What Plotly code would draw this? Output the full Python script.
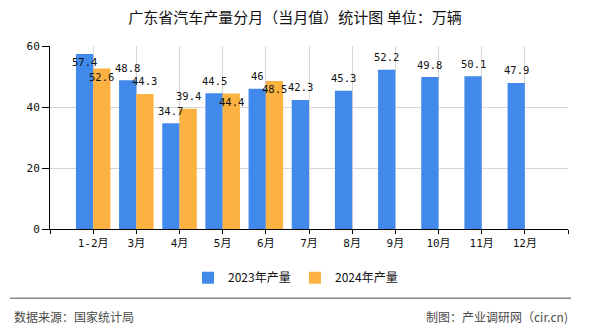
import plotly.graph_objects as go

# ---- data ----
categories = ["1-2月", "3月", "4月", "5月", "6月", "7月", "8月", "9月", "10月", "11月", "12月"]
values_2023 = [57.4, 48.8, 34.7, 44.5, 46, 42.3, 45.3, 52.2, 49.8, 50.1, 47.9]
values_2024 = [52.6, 44.3, 39.4, 44.4, 48.5]
series_names = ["2023年产量", "2024年产量"]
y_ticks = [0, 20, 40, 60]
title_text = "广东省汽车产量分月（当月值）统计图 单位：万辆"
source_text = "数据来源：国家统计局"
credit_text = "制图：产业调研网（cir.cn)"

# label placement style (True = label drawn just inside bar top)
inside_2023 = [True, False, False, False, False, False, False, False, False, False, False]
inside_2024 = [True, False, False, True, True]

# ---- layout geometry ----
W, H = 590, 330
L, R, T, B = 50, 22, 46, 101
PW, PH = W - L - R, H - T - B

def px_x(x):
    return (x - L) / PW

def px_y(y):
    return (H - B - y) / PH

BLUE = "#4289EC"
ORANGE = "#FBB241"
MONO = "DejaVu Sans Mono, Noto Sans CJK SC, sans-serif"
CJK = "Noto Sans CJK SC, sans-serif"

pos = list(range(1, len(categories) + 1))

fig = go.Figure()
fig.add_trace(go.Bar(
    x=pos, y=values_2023, name=series_names[0], marker_color=BLUE,
    offset=-0.4, width=0.4, marker_line_width=0,
))
fig.add_trace(go.Bar(
    x=pos[:len(values_2024)], y=values_2024, name=series_names[1], marker_color=ORANGE,
    offset=0.0, width=0.4, marker_line_width=0,
))

annotations = []
for xs, vals, inside, dx in ((pos, values_2023, inside_2023, -0.2),
                             (pos[:len(values_2024)], values_2024, inside_2024, 0.2)):
    for x, v, ins in zip(xs, vals, inside):
        annotations.append(dict(
            x=x + dx, y=v, xref="x", yref="y", text=f"{v:g}", showarrow=False,
            yanchor="middle", xanchor="center", yshift=(-8 if ins else 12.5),
            font=dict(family=MONO, size=10.5, color="#111"),
        ))

annotations.append(dict(
    x=px_x(12), y=px_y(316.7), xref="paper", yref="paper", text=source_text,
    showarrow=False, xanchor="left", yanchor="middle",
    font=dict(family=CJK, size=12, color="#4a4a4a"),
))
annotations.append(dict(
    x=px_x(570), y=px_y(316.7), xref="paper", yref="paper", text=credit_text,
    showarrow=False, xanchor="right", yanchor="middle",
    font=dict(family=CJK, size=12, color="#4a4a4a"),
))

shapes = [dict(
    type="line", xref="paper", yref="paper",
    x0=px_x(10), x1=px_x(571), y0=px_y(298.3), y1=px_y(298.3),
    line=dict(color="#8a8a8a", width=1.5),
)]

fig.update_layout(
    width=W, height=H,
    margin=dict(l=L, r=R, t=T, b=B, pad=0),
    paper_bgcolor="white", plot_bgcolor="white",
    barmode="overlay",
    title=dict(text=title_text, x=0.5, xanchor="center", xref="container",
               y=1 - 18 / H, yanchor="middle", yref="container",
               font=dict(family=CJK, size=15, color="#111")),
    xaxis=dict(
        range=[0, len(categories) + 1],
        tickmode="array",
        tickvals=list(range(0, len(categories) + 2)),
        ticktext=[""] + categories + [""],
        ticks="outside", ticklen=4, tickcolor="#000",
        showline=True, linecolor="#000", linewidth=1,
        showgrid=True, gridcolor="#d6d6d6", gridwidth=1,
        zeroline=False,
        tickfont=dict(family=MONO, size=11, color="#111"),
        fixedrange=True,
    ),
    yaxis=dict(
        range=[0, 60],
        tickmode="array", tickvals=y_ticks,
        ticks="outside", ticklen=7, tickcolor="#000",
        showline=True, linecolor="#000", linewidth=1,
        showgrid=True, gridcolor="#d6d6d6", gridwidth=1,
        zeroline=False,
        tickfont=dict(family=MONO, size=11, color="#111"),
        fixedrange=True,
    ),
    legend=dict(
        orientation="h", xref="container", yref="container",
        x=0.5, xanchor="center", y=1 - 277.7 / H, yanchor="middle",
        font=dict(family=CJK, size=12, color="#111"),
        itemwidth=30, traceorder="normal",
        entrywidth=62, entrywidthmode="pixels",
    ),
    annotations=annotations,
    shapes=shapes,
)

fig.write_html("out.html")
